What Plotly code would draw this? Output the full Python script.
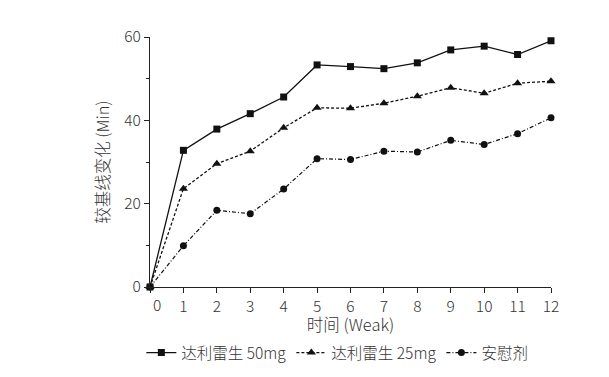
import plotly.graph_objects as go

weeks = [0, 1, 2, 3, 4, 5, 6, 7, 8, 9, 10, 11, 12]
tick_labels = ["", "1", "2", "3", "4", "5", "6", "7", "8", "9", "10", "11", "12"]
dose50 = [0, 32.8, 37.9, 41.6, 45.6, 53.3, 52.9, 52.4, 53.8, 56.9, 57.8, 55.8, 59.1]
dose25 = [0, 23.6, 29.6, 32.6, 38.2, 43.0, 42.9, 44.1, 45.8, 47.8, 46.5, 48.9, 49.4]
placebo = [0, 9.9, 18.4, 17.6, 23.5, 30.8, 30.6, 32.6, 32.4, 35.2, 34.2, 36.8, 40.6]
names = ["达利雷生 50mg", "达利雷生 25mg", "安慰剂"]

font = "Noto Sans CJK SC, Noto Sans, sans-serif"
tf = dict(family=font, size=15.5, color="#333", weight=300)
lf = dict(family=font, size=16.5, color="#333", weight=300)
legf = dict(family=font, size=15.5, color="#333", weight=300)
fig = go.Figure()
fig.add_trace(go.Scatter(x=weeks, y=dose50, name=names[0], mode="lines+markers",
                         line=dict(color="#111", width=1.3, dash="solid"),
                         marker=dict(symbol="square", size=7, color="#111"), cliponaxis=False))
fig.add_trace(go.Scatter(x=weeks, y=dose25, name=names[1], mode="lines+markers",
                         line=dict(color="#111", width=1.3, dash="3px,2px"),
                         marker=dict(symbol="triangle-up", size=8, color="#111"), cliponaxis=False))
fig.add_trace(go.Scatter(x=weeks, y=placebo, name=names[2], mode="lines+markers",
                         line=dict(color="#111", width=1.2, dash="4px,2px,1px,2px"),
                         marker=dict(symbol="circle", size=7, color="#111"), cliponaxis=False))

fig.update_layout(
    width=601, height=369,
    margin=dict(l=142, r=58, t=29, b=90),
    paper_bgcolor="white", plot_bgcolor="white",
    font=tf,
    showlegend=True,
    legend=dict(orientation="h", x=0.548, xanchor="center", xref="container",
                y=0.065, yanchor="middle", yref="container",
                font=legf, itemwidth=30, tracegroupgap=0),
    xaxis=dict(range=[0, 12], tickvals=weeks, ticktext=tick_labels, showgrid=False, zeroline=False,
               automargin=False,
               showline=True, linecolor="#222", linewidth=1.2, ticks="outside", ticklen=5,
               tickcolor="#222", tickfont=tf,
               title=dict(text="时间 (Weak)", font=lf, standoff=6)),
    yaxis=dict(range=[0, 60], tickvals=[0, 20, 40, 60], showgrid=False, zeroline=False,
               automargin=False,
               showline=True, linecolor="#222", linewidth=1.2, ticks="outside", ticklen=5,
               tickcolor="#222", tickfont=tf,
               minor=dict(tickvals=[10, 30, 50], ticks="outside", ticklen=3, tickcolor="#222"),
               title=dict(text="较基线变化 (Min)", font=lf, standoff=10)),
)
fig.add_annotation(x=0, y=0, xref="x", yref="y", text="0", showarrow=False,
                   xshift=7, yshift=-17, font=tf)
fig.write_html("out.html")
